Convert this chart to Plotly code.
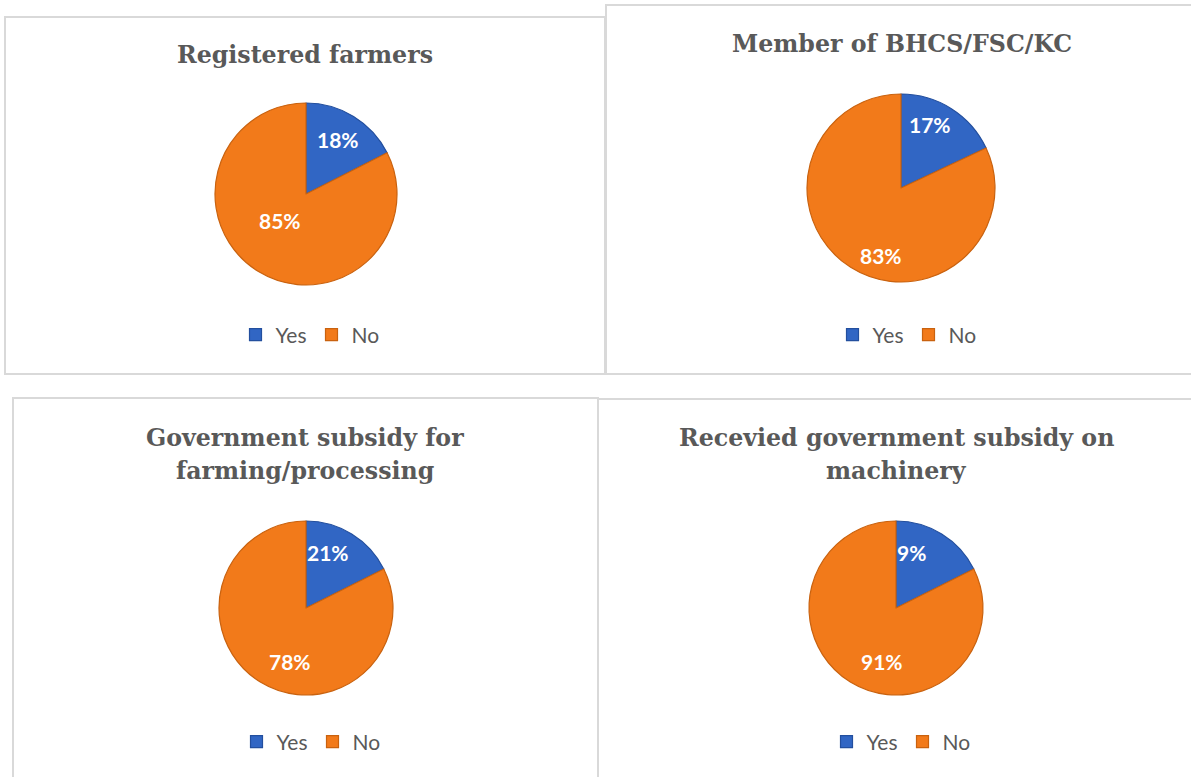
import plotly.graph_objects as go

W, H = 1191, 777

# ---- data ----
titles = [
    ["Registered farmers"],
    ["Member of BHCS/FSC/KC"],
    ["Government subsidy for", "farming/processing"],
    ["Recevied government subsidy on", "machinery"],
]
categories = ["Yes", "No"]
# slice sizes as drawn in the picture (the Yes wedge spans ~63 degrees in every pie)
yes_drawn = [17.5, 18.0, 17.6, 17.6]
no_drawn = [82.5, 82.0, 82.4, 82.4]
# labels printed on the slices
yes_labels = ["18%", "17%", "21%", "9%"]
no_labels = ["85%", "83%", "78%", "91%"]

colors = ["#3166C4", "#F27A1A"]
edge_colors = ["#234F9E", "#C9620F"]

# ---- layout geometry (pixels) ----
panels = [  # x0, y0, x1, y1
    (5, 17, 605, 374),
    (606, 5, 1195, 374),
    (13, 398, 598, 790),
    (598, 399, 1195, 790),
]
pie_boxes = [  # x0, y0, x1, y1 of pie domain
    (215, 103, 397, 285),
    (807, 94, 995, 282),
    (219, 521, 393, 695),
    (809, 521, 983, 695),
]
title_lines_y = [[55], [44], [438, 471], [438, 471]]
title_x = [305, 902, 305, 896]
label_pos = [  # (yes label center, no label center)
    ((338, 140), (280, 221)),
    ((930, 125), (881, 255)),
    ((328, 552), (290, 661)),
    ((911, 552), (882, 661)),
]
legend_pos = [(310, 335), (907, 335), (311, 742), (901, 742)]


def px(x):
    return x / W


def py(y):
    return 1 - y / H


fig = go.Figure()
for i in range(4):
    x0, y0, x1, y1 = pie_boxes[i]
    lname = "legend" if i == 0 else f"legend{i + 1}"
    # zero-width spaces keep each pie's legend entries distinct
    labs = [c + "\u200b" * i for c in categories]
    fig.add_trace(go.Pie(
        labels=labs,
        values=[yes_drawn[i], no_drawn[i]],
        customdata=[yes_labels[i], no_labels[i]],
        textinfo="none",
        marker=dict(colors=colors, line=dict(color=edge_colors, width=1.2)),
        sort=False,
        direction="clockwise",
        rotation=0,
        domain=dict(x=[px(x0), px(x1)], y=[py(y1), py(y0)]),
        legend=lname,
        hovertemplate="%{label}: %{customdata}<extra></extra>",
    ))

shapes = []
for (x0, y0, x1, y1) in panels:
    shapes.append(dict(type="rect", xref="paper", yref="paper",
                       x0=px(x0), x1=px(x1), y0=py(y1), y1=py(y0),
                       line=dict(color="#D9D9D9", width=2), fillcolor="rgba(0,0,0,0)"))

annotations = []
for i, lines in enumerate(titles):
    for line, ty in zip(lines, title_lines_y[i]):
        annotations.append(dict(text="<b>" + line + "</b>", x=px(title_x[i]), y=py(ty),
                                xref="paper", yref="paper",
                                xanchor="center", yanchor="middle", showarrow=False,
                                font=dict(family="DejaVu Serif", size=23.7, color="#595959")))
    for txt, (lx, ly) in zip([yes_labels[i], no_labels[i]], label_pos[i]):
        annotations.append(dict(text="<b>" + txt + "</b>", x=px(lx), y=py(ly),
                                xref="paper", yref="paper",
                                xanchor="center", yanchor="middle", showarrow=False,
                                font=dict(family="Lato", size=21, color="white")))

layout_legends = {}
for i in range(4):
    lx, ly = legend_pos[i]
    key = "legend" if i == 0 else f"legend{i + 1}"
    layout_legends[key] = dict(
        orientation="h", x=px(lx), y=py(ly), xanchor="center", yanchor="middle",
        font=dict(family="Lato", size=21, color="#595959"),
        bgcolor="rgba(0,0,0,0)", itemwidth=30,
    )

fig.update_layout(
    width=W, height=H,
    margin=dict(l=0, r=0, t=0, b=0),
    paper_bgcolor="white", plot_bgcolor="white",
    shapes=shapes, annotations=annotations,
    **layout_legends,
)

fig.write_html("out.html")
